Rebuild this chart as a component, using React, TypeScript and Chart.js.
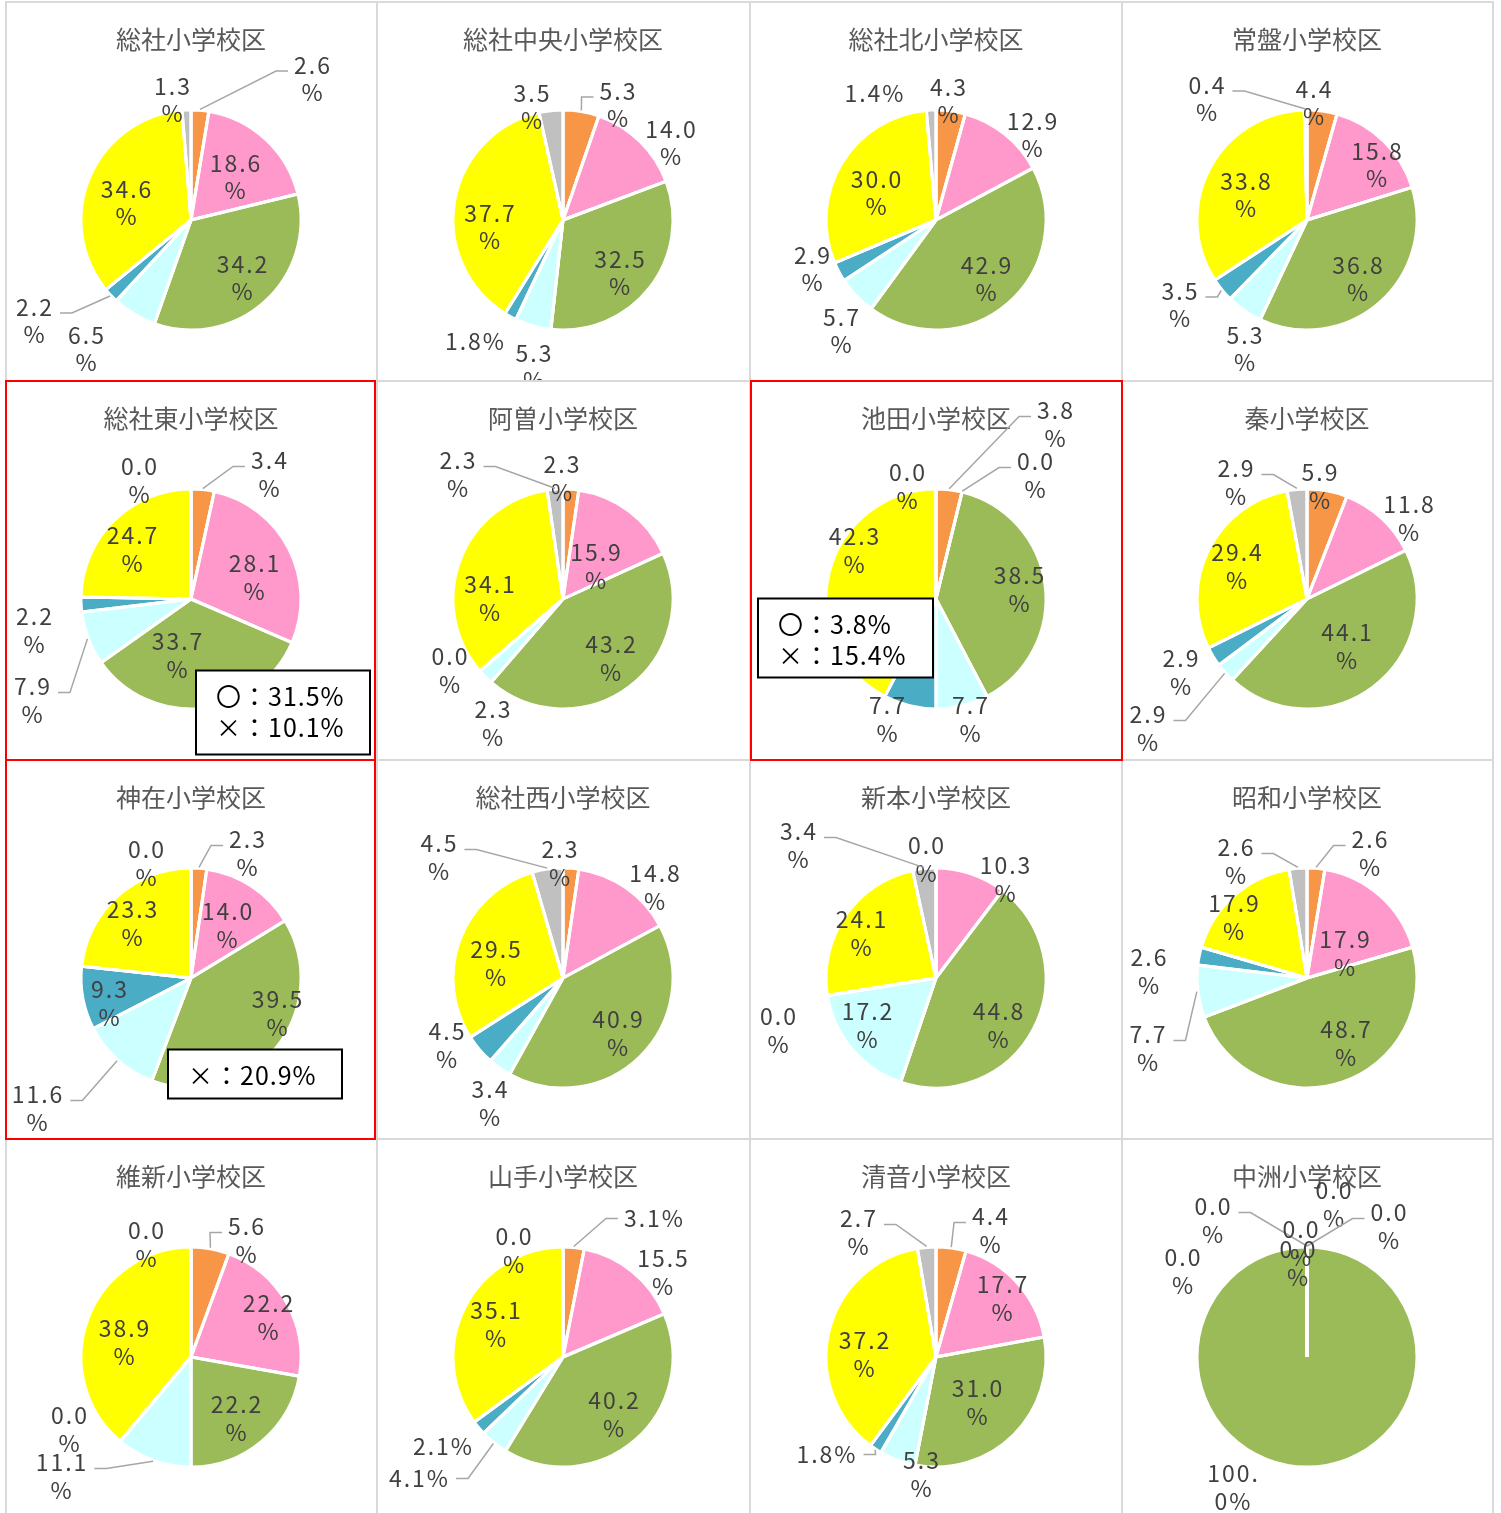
import React, { useEffect, useRef } from 'react';
import { Chart, registerables } from 'chart.js';

Chart.register(...registerables);

// ---- data ----
const schoolNames = [
  '総社小学校区', '総社中央小学校区', '総社北小学校区', '常盤小学校区',
  '総社東小学校区', '阿曽小学校区', '池田小学校区', '秦小学校区',
  '神在小学校区', '総社西小学校区', '新本小学校区', '昭和小学校区',
  '維新小学校区', '山手小学校区', '清音小学校区', '中洲小学校区',
];
const answerCategories = ['区分1', '区分2', '区分3', '区分4', '区分5', '区分6', '区分7'];

const orangeShare = [2.6, 5.3, 4.3, 4.4, 3.4, 2.3, 3.8, 5.9, 2.3, 2.3, 0.0, 2.6, 5.6, 3.1, 4.4, 0.0];
const pinkShare = [18.6, 14.0, 12.9, 15.8, 28.1, 15.9, 0.0, 11.8, 14.0, 14.8, 10.3, 17.9, 22.2, 15.5, 17.7, 0.0];
const greenShare = [34.2, 32.5, 42.9, 36.8, 33.7, 43.2, 38.5, 44.1, 39.5, 40.9, 44.8, 48.7, 22.2, 40.2, 31.0, 100.0];
const lightCyanShare = [6.5, 5.3, 5.7, 5.3, 7.9, 2.3, 7.7, 2.9, 11.6, 3.4, 17.2, 7.7, 11.1, 4.1, 5.3, 0.0];
const tealShare = [2.2, 1.8, 2.9, 3.5, 2.2, 0.0, 7.7, 2.9, 9.3, 4.5, 0.0, 2.6, 0.0, 2.1, 1.8, 0.0];
const yellowShare = [34.6, 37.7, 30.0, 33.8, 24.7, 34.1, 42.3, 29.4, 23.3, 29.5, 24.1, 17.9, 38.9, 35.1, 37.2, 0.0];
const grayShare = [1.3, 3.5, 1.4, 0.4, 0.0, 2.3, 0.0, 2.9, 0.0, 4.5, 3.4, 2.6, 0.0, 0.0, 2.7, 0.0];

const noteSchoolIndex = [4, 6, 8];
const noteLines = [
  ['〇：31.5%', '×：10.1%'],
  ['〇：3.8%', '×：15.4%'],
  ['×：20.9%'],
];
const highlightedSchools = [4, 6, 8];

// ---- styles / layout ----
const sliceColors = ['#F79646', '#FF99CC', '#9BBB59', '#CCFFFF', '#4BACC6', '#FFFF00', '#C0C0C0'];
const colLefts = [5, 377, 750, 1121];
const rowTops = [2, 381, 760, 1139];
const CELL_W = 372;
const CELL_H = 379;
const FONT = '"Noto Sans CJK JP", "Noto Sans", sans-serif';

// note box geometry relative to pie centre: [left, top, width, height]
const noteBoxes = [
  [5, 71.5, 174, 84],
  [-178, -0.5, 175, 79],
  [-23, 71.5, 174, 49],
];

// data-label placement relative to pie centre: [dx, dy, flags]  L=leader line, 1=single line, W=wrapped number
type Spot = [number, number, string];
const labelLayouts: Spot[][] = [
  [[122, -141, 'L'], [45, -43, ''], [52, 58, ''], [-104, 129, ''], [-156, 101, 'L'], [-64, -17, ''], [-18, -120, '']],
  [[55.5, -115, 'L'], [108.5, -77, ''], [57.5, 53, ''], [-28.5, 147, ''], [-87.5, 121, '1'], [-72.5, 7, ''], [-30.5, -113, '']],
  [[13, -119, ''], [97, -85, ''], [51, 59, ''], [-94, 111, ''], [-123, 49, ''], [-59, -27, ''], [-61, -127, '1']],
  [[7.5, -117, ''], [70.5, -55, ''], [51.5, 59, ''], [-61.5, 129, ''], [-126.5, 85, 'L'], [-60.5, -25, ''], [-99.5, -121, 'L']],
  [[79, -124.5, 'L'], [64, -21.5, ''], [-13, 56.5, ''], [-158, 101.5, 'L'], [-156, 31.5, ''], [-58, -49.5, ''], [-51, -118.5, '']],
  [[-0.5, -120.5, ''], [33.5, -32.5, ''], [48.5, 59.5, ''], [-69.5, 124.5, ''], [-112.5, 71.5, ''], [-72.5, -0.5, ''], [-104.5, -124.5, 'L']],
  [[120, -174.5, 'L'], [100, -123.5, 'L'], [84, -9.5, ''], [35, 120.5, ''], [-48, 120.5, ''], [-81, -48.5, ''], [-28, -112.5, '']],
  [[13.5, -112.5, ''], [102.5, -80.5, ''], [40.5, 47.5, ''], [-158.5, 129.5, 'L'], [-125.5, 73.5, ''], [-69.5, -32.5, ''], [-70.5, -116.5, 'L']],
  [[57, -124.5, 'L'], [37, -52.5, ''], [87, 35.5, ''], [-153, 130.5, 'L'], [-81, 25.5, ''], [-58, -54.5, ''], [-44, -114.5, '']],
  [[-2.5, -114.5, ''], [92.5, -90.5, ''], [55.5, 55.5, ''], [-72.5, 125.5, ''], [-115.5, 67.5, ''], [-66.5, -14.5, ''], [-123.5, -120.5, 'L']],
  [[-9, -118.5, ''], [70, -98.5, ''], [63, 47.5, ''], [-68, 47.5, ''], [-157, 52.5, ''], [-74, -44.5, ''], [-137, -132.5, 'L']],
  [[63.5, -124.5, 'L'], [38.5, -24.5, ''], [39.5, 65.5, ''], [-158.5, 70.5, 'L'], [-157.5, -6.5, ''], [-72.5, -60.5, ''], [-70.5, -116.5, 'L']],
  [[56, -116.5, 'L'], [78, -39.5, ''], [46, 61.5, ''], [-129, 119.5, 'L'], [-121, 72.5, ''], [-66, -14.5, ''], [-44, -112.5, '']],
  [[91.5, -138.5, 'L1'], [100.5, -84.5, ''], [51.5, 57.5, ''], [-143.5, 121.5, 'L1'], [-119.5, 89.5, '1'], [-66.5, -32.5, ''], [-48.5, -106.5, '']],
  [[55, -126.5, 'L'], [67, -58.5, ''], [42, 45.5, ''], [-14, 117.5, ''], [-109, 97.5, 'L1'], [-71, -2.5, ''], [-77, -124.5, 'L']],
  [[27.5, -152.5, ''], [82.5, -130.5, 'L'], [-73.5, 130.5, 'W'], [-93.5, -136.5, 'L'], [-5.5, -113.5, ''], [-8.5, -93.5, ''], [-123.5, -85.5, '']],
];

function schoolValues(i: number): number[] {
  return [orangeShare[i], pinkShare[i], greenShare[i], lightCyanShare[i], tealShare[i], yellowShare[i], grayShare[i]];
}

function makeOverlay(idx: number) {
  return {
    id: 'overlay' + idx,
    afterDraw(chart: any) {
      const ctx: CanvasRenderingContext2D = chart.ctx;
      const meta = chart.getDatasetMeta(0);
      const arcs: any[] = meta.data;
      if (!arcs.length) return;
      const cx = arcs[0].x;
      const cy = arcs[0].y;
      const r = arcs[0].outerRadius;
      const values = schoolValues(idx);
      ctx.save();

      // slice boundary lines (also for empty slices)
      ctx.strokeStyle = '#ffffff';
      ctx.lineWidth = 3;
      arcs.forEach((a) => {
        ctx.beginPath();
        ctx.moveTo(cx, cy);
        ctx.lineTo(cx + r * Math.cos(a.startAngle), cy + r * Math.sin(a.startAngle));
        ctx.stroke();
      });

      // title
      (ctx as any).letterSpacing = '0px';
      ctx.fillStyle = '#595959';
      ctx.font = `25px ${FONT}`;
      ctx.textAlign = 'center';
      ctx.textBaseline = 'middle';
      ctx.fillText(schoolNames[idx], cx, cy - 181);

      // data labels
      ctx.font = `23px ${FONT}`;
      (ctx as any).letterSpacing = '2px';
      const layout = labelLayouts[idx];
      arcs.forEach((a, i) => {
        const [dx, dy, flag] = layout[i];
        const txt = values[i].toFixed(1) + '%';
        let lines: string[];
        if (flag.includes('1')) lines = [txt];
        else if (flag.includes('W')) lines = [txt.slice(0, 4), txt.slice(4)];
        else lines = [txt.slice(0, -1), '%'];
        const lx = cx + dx;
        const ly = cy + dy;
        const w = Math.max(...lines.map((l) => ctx.measureText(l).width));
        if (flag.includes('L')) {
          const mid = (a.startAngle + a.endAngle) / 2;
          const sx = cx + (r + 1) * Math.cos(mid);
          const sy = cy + (r + 1) * Math.sin(mid);
          const toRight = lx > sx;
          const ex = toRight ? lx - w / 2 - 6 : lx + w / 2 + 6;
          const ey = lines.length > 1 ? ly - 8 : ly;
          const bx = toRight ? ex - 12 : ex + 12;
          ctx.strokeStyle = '#A6A6A6';
          ctx.lineWidth = 1.5;
          ctx.beginPath();
          ctx.moveTo(sx, sy);
          ctx.lineTo(bx, ey);
          ctx.lineTo(ex, ey);
          ctx.stroke();
        }
        ctx.fillStyle = '#404040';
        lines.forEach((l, k) => {
          ctx.fillText(l, lx, ly + (k - (lines.length - 1) / 2) * 27.5);
        });
      });

      // note box
      const ni = noteSchoolIndex.indexOf(idx);
      if (ni >= 0) {
        const [bx, by, bw, bh] = noteBoxes[ni];
        ctx.fillStyle = '#ffffff';
        ctx.fillRect(cx + bx, cy + by, bw, bh);
        ctx.strokeStyle = '#000000';
        ctx.lineWidth = 2;
        ctx.strokeRect(cx + bx, cy + by, bw, bh);
        ctx.fillStyle = '#000000';
        ctx.font = `25px ${FONT}`;
        (ctx as any).letterSpacing = '1px';
        ctx.textAlign = 'left';
        noteLines[ni].forEach((t, k) => {
          ctx.fillText(t, cx + bx + 20, cy + by + 26 + k * 31);
        });
      }
      ctx.restore();
    },
  };
}

function PieCell({ idx }: { idx: number }) {
  const ref = useRef<HTMLCanvasElement>(null);
  useEffect(() => {
    const chart = new Chart(ref.current as HTMLCanvasElement, {
      type: 'pie',
      data: {
        labels: answerCategories,
        datasets: [
          {
            data: schoolValues(idx),
            backgroundColor: sliceColors,
            borderColor: '#ffffff',
            borderWidth: 3,
            radius: 110,
          } as any,
        ],
      },
      options: {
        responsive: false,
        maintainAspectRatio: false,
        animation: false,
        devicePixelRatio: 1,
        events: [],
        layout: { padding: { top: 100, bottom: 43, left: 0, right: 0 } },
        plugins: {
          legend: { display: false },
          tooltip: { enabled: false },
          title: { display: false },
        },
      } as any,
      plugins: [makeOverlay(idx)],
    });
    return () => chart.destroy();
  }, [idx]);
  const col = idx % 4;
  const row = Math.floor(idx / 4);
  return (
    <canvas
      ref={ref}
      width={CELL_W}
      height={CELL_H}
      style={{ position: 'absolute', left: colLefts[col], top: rowTops[row], width: CELL_W, height: CELL_H }}
    />
  );
}

const gridX = [5, 376, 749, 1121, 1492];
const gridY = [1, 380, 759, 1138];
const redRects = [
  [5, 380, 371, 381],
  [750, 380, 373, 381],
  [5, 759, 371, 381],
];

export default function App() {
  return (
    <div
      style={{
        position: 'absolute',
        left: 0,
        top: 0,
        width: 1501,
        height: 1513,
        overflow: 'hidden',
        background: '#ffffff',
      }}
    >
      {schoolNames.map((_, i) => (
        <PieCell key={i} idx={i} />
      ))}
      {gridX.map((x, i) => (
        <div key={'vx' + i} style={{ position: 'absolute', left: x, top: 1, width: 2, height: 1512, background: '#D9D9D9' }} />
      ))}
      {gridY.map((y, i) => (
        <div key={'hy' + i} style={{ position: 'absolute', left: 5, top: y, width: 1489, height: 2, background: '#D9D9D9' }} />
      ))}
      {highlightedSchools.map((s, i) => {
        const [x, y, w, h] = redRects[i];
        return (
          <div
            key={'red' + s}
            style={{ position: 'absolute', left: x, top: y, width: w, height: h, border: '2px solid #FF0000', boxSizing: 'border-box' }}
          />
        );
      })}
    </div>
  );
}
